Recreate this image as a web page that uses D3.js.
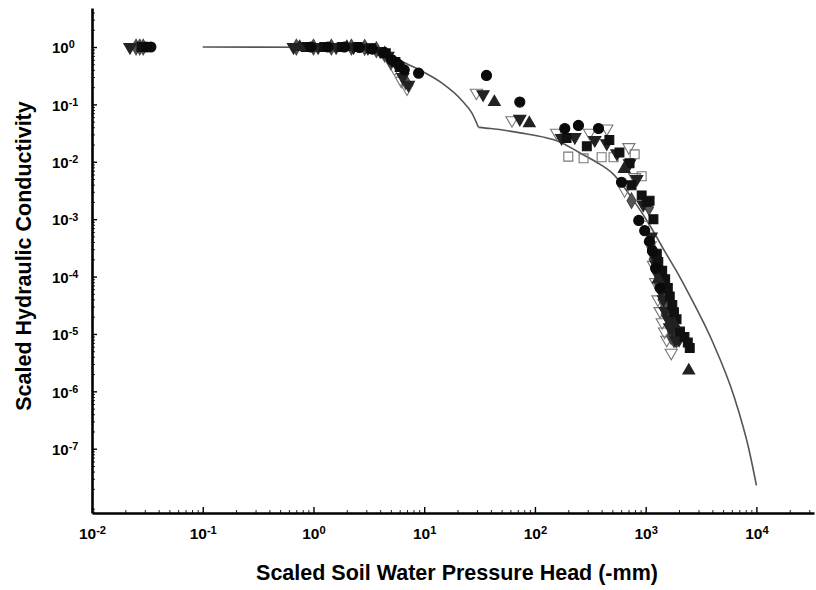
<!DOCTYPE html>
<html>
<head>
<meta charset="utf-8">
<script src="https://cdn.jsdelivr.net/npm/d3@7"></script>
<style>
  body { margin: 0; background: #fff; }
  text { font-family: "Liberation Sans", Arial, sans-serif; fill: #000; }
</style>
</head>
<body>
<script>
const w = 816;
const h = 590;

// tick exponents (labels are 10^n)
const xExp = [-2, -1, 0, 1, 2, 3, 4];
const yExp = [0, -1, -2, -3, -4, -5, -6, -7];

// measured points, [pressure head, scaled K]
const circles = [
  [0.031, 1.0], [0.034, 1.0], [0.95, 1.0], [1.35, 1.0], [1.9, 1.0], [2.6, 0.98], [3.4, 0.92], [4.3, 0.8],
  [5.1, 0.6], [5.8, 0.5], [6.6, 0.40], [8.9, 0.35],
  [36.5, 0.32], [73, 0.11],
  [186, 0.038], [247, 0.043], [375, 0.038], [605, 0.0044], [866, 9.5e-4], [980, 6.3e-4], [1083, 4.1e-4],
  [1150, 2.8e-4], [1230, 1.4e-4], [1350, 6.3e-5]
];
const downFilled = [
  [0.022, 1.0], [0.66, 1.0], [1.1, 1.0], [1.6, 1.0], [2.3, 1.0], [3.1, 0.97], [4.0, 0.85], [4.7, 0.7],
  [6.4, 0.3], [7.2, 0.22],
  [34, 0.15], [73, 0.056],
  [174, 0.026], [229, 0.027], [347, 0.024], [445, 0.021], [550, 0.014], [715, 0.0094], [830, 0.005], [950, 0.0018],
  [1120, 5e-4], [1200, 2.2e-4], [1250, 1.6e-4], [1280, 1.1e-4], [1380, 5.5e-5], [1450, 4e-5], [1500, 2.5e-5],
  [1600, 1.8e-5], [1650, 1.3e-5], [1750, 1.2e-5], [1850, 8e-6], [2000, 8e-6]
];
const downOpen = [
  [5.4, 0.42], [6.2, 0.26], [7.0, 0.19], [29.6, 0.16], [62, 0.053],
  [157, 0.032], [311, 0.032], [446, 0.038], [705, 0.018], [795, 0.0054], [645, 0.0032],
  [1000, 8e-4], [1100, 3.5e-4], [1175, 1.6e-4], [1230, 8e-5], [1290, 4e-5], [1350, 2.5e-5], [1410, 1.6e-5],
  [1480, 1.1e-5], [1550, 7.9e-6], [1700, 4.7e-6]
];
const squaresOpen = [
  [200, 0.0123], [275, 0.0115], [400, 0.012], [513, 0.012], [795, 0.0135], [920, 0.0056],
  [1250, 2e-4], [1320, 1.26e-4], [1400, 8e-5], [1480, 5e-5], [1560, 3.5e-5], [1660, 2.5e-5], [1780, 1.26e-5]
];
const squaresFilled = [
  [0.028, 1.0], [0.032, 1.0], [0.85, 1.0], [1.25, 1.0], [1.8, 1.0], [2.5, 1.0], [3.3, 0.95], [4.5, 0.78],
  [5.5, 0.55], [6.0, 0.45],
  [193, 0.026], [294, 0.0186], [470, 0.024], [580, 0.0145], [715, 0.0094], [745, 0.0039], [920, 0.0026],
  [1020, 0.002], [1085, 0.0021], [1175, 0.001],
  [1260, 2.5e-4], [1300, 1.8e-4], [1410, 1.26e-4], [1500, 9e-5], [1585, 6.3e-5], [1650, 4.5e-5], [1740, 3.2e-5],
  [1800, 2.4e-5], [1900, 1.8e-5], [2040, 1.1e-5], [2240, 8.9e-6], [2400, 7.1e-6], [2500, 5.7e-6]
];
const upFilled = [
  [0.75, 1.0], [2.0, 1.0], [43, 0.11], [89, 0.047], [640, 0.0075], [1300, 9e-5], [1800, 1.5e-5], [2450, 2.3e-6]
];
const diamonds = [
  [0.025, 1.0], [0.027, 1.0], [0.029, 1.0], [0.7, 1.0], [1.0, 1.0], [1.45, 1.0], [2.2, 1.0], [2.9, 0.99],
  [3.7, 0.9], [4.4, 0.75], [5.0, 0.55], [6.8, 0.25],
  [745, 0.0021], [1070, 0.0016], [1130, 3.2e-4], [1180, 2e-4], [1200, 2.5e-4], [1250, 1.5e-4], [1290, 8e-5],
  [1320, 1e-4], [1380, 6e-5], [1420, 4e-5], [1445, 5e-5], [1500, 3e-5], [1520, 2.2e-5], [1585, 2e-5],
  [1650, 1.5e-5], [1700, 9e-6], [1740, 1.1e-5], [1800, 8e-6], [1900, 7.9e-6]
];

// fitted curve, two pieces meeting at the kink
const fitUpper = [
  [0.1, 1.0], [1, 0.99], [2, 0.955], [3.16, 0.87], [5, 0.71], [6.3, 0.56], [9.5, 0.38], [14.5, 0.234],
  [21.9, 0.117], [26.9, 0.071], [30.9, 0.040]
];
const fitLower = [
  [30.9, 0.0398], [39.8, 0.038], [75.9, 0.0316], [126, 0.0263], [162, 0.0229], [251, 0.0145], [355, 0.01],
  [501, 0.0063], [794, 0.002], [1122, 7.1e-4], [1479, 2.8e-4], [1995, 1.05e-4], [2570, 4.2e-5],
  [3981, 7.6e-6], [6310, 7.9e-7], [8511, 1.02e-7], [10000, 2.3e-8]
];

const x = d3.scaleLog().domain([1e-2, Math.pow(10, 4.52)]).range([92, 814]);
const y = d3.scaleLog().domain([Math.pow(10, -8.12), Math.pow(10, 0.68)]).range([513, 8]);

const svg = d3.select("body")
              .append("svg")
              .attr("width", w)
              .attr("height", h);

// minor ticks
const xMinor = x.ticks(60).filter(d => Math.abs(Math.log10(d) - Math.round(Math.log10(d))) > 1e-6);
const yMinor = y.ticks(80).filter(d => Math.abs(Math.log10(d) - Math.round(Math.log10(d))) > 1e-6);

svg.append("g")
   .attr("transform", "translate(0,513)")
   .call(d3.axisBottom(x).tickValues(xMinor).tickSize(-3).tickFormat(""))
   .call(g => g.select(".domain").remove())
   .selectAll("line").attr("stroke", "#222").attr("stroke-width", 1);

svg.append("g")
   .attr("transform", "translate(92,0)")
   .call(d3.axisLeft(y).tickValues(yMinor).tickSize(-3).tickFormat(""))
   .call(g => g.select(".domain").remove())
   .selectAll("line").attr("stroke", "#222").attr("stroke-width", 1);

function supLabel(sel) {
  sel.each(function(d) {
    const t = d3.select(this);
    const e = Math.round(Math.log10(d));
    t.text("");
    t.append("tspan").text("10");
    t.append("tspan").attr("dy", "-0.45em").attr("font-size", "0.72em").text(e < 0 ? "-" + (-e) : e);
  });
}

const xAxis = svg.append("g")
   .attr("transform", "translate(0,513)")
   .call(d3.axisBottom(x).tickValues(xExp.map(e => Math.pow(10, e))).tickSize(-6).tickSizeOuter(0).tickPadding(15));
xAxis.select(".domain").attr("stroke", "#000").attr("stroke-width", 2.6);
xAxis.selectAll(".tick line").attr("stroke", "#000").attr("stroke-width", 1.4);
xAxis.selectAll(".tick text")
     .attr("font-size", 15.5).attr("font-weight", "bold")
     .attr("font-family", "Liberation Sans, Arial, sans-serif")
     .call(supLabel);

const yAxis = svg.append("g")
   .attr("transform", "translate(92,0)")
   .call(d3.axisLeft(y).tickValues(yExp.map(e => Math.pow(10, e))).tickSize(-5).tickSizeOuter(0));
yAxis.select(".domain").attr("stroke", "#000").attr("stroke-width", 2.6);
yAxis.selectAll(".tick line").attr("stroke", "#000").attr("stroke-width", 1.4);
yAxis.selectAll(".tick text")
     .attr("x", -40).attr("dy", "0.38em")
     .attr("text-anchor", "start")
     .attr("font-size", 15).attr("font-weight", "bold")
     .attr("font-family", "Liberation Sans, Arial, sans-serif")
     .call(supLabel);

// fitted line
const line = d3.line()
   .x(d => x(d[0]))
   .y(d => y(d[1]))
   .curve(d3.curveMonotoneX);

[fitUpper, fitLower].forEach(pts => {
  svg.append("path")
     .attr("d", line(pts))
     .attr("fill", "none")
     .attr("stroke", "#555")
     .attr("stroke-width", 1.6);
});

// markers
const series = [
  { data: squaresOpen,   type: d3.symbolSquare,   size: 80, rot: 0,   fill: "none",    stroke: "#777" },
  { data: downOpen,      type: d3.symbolTriangle, size: 64, rot: 180, fill: "none",    stroke: "#777" },
  { data: diamonds,      type: d3.symbolDiamond,  size: 70, rot: 0,   fill: "#555",    stroke: "#444" },
  { data: downFilled,    type: d3.symbolTriangle, size: 64, rot: 180, fill: "#222",    stroke: "#222" },
  { data: squaresFilled, type: d3.symbolSquare,   size: 78, rot: 0,   fill: "#111",    stroke: "#111" },
  { data: upFilled,      type: d3.symbolTriangle, size: 60, rot: 0,   fill: "#222",    stroke: "#222" },
  { data: circles,       type: d3.symbolCircle,   size: 80, rot: 0,   fill: "#0a0a0a", stroke: "#0a0a0a" }
];

series.forEach(s => {
  svg.append("g")
     .selectAll("path")
     .data(s.data)
     .enter()
     .append("path")
     .attr("d", d3.symbol().type(s.type).size(s.size))
     .attr("transform", d => "translate(" + x(d[0]) + "," + y(d[1]) + ") rotate(" + s.rot + ")")
     .attr("fill", s.fill)
     .attr("stroke", s.stroke)
     .attr("stroke-width", 1.1);
});

// axis titles
svg.append("text")
   .attr("x", 457)
   .attr("y", 580)
   .attr("text-anchor", "middle")
   .attr("font-size", 21.5)
   .attr("font-weight", "bold")
   .text("Scaled Soil Water Pressure Head (-mm)");

svg.append("text")
   .attr("transform", "translate(31,256) rotate(-90)")
   .attr("text-anchor", "middle")
   .attr("font-size", 21.5)
   .attr("font-weight", "bold")
   .text("Scaled Hydraulic Conductivity");
</script>
</body>
</html>
